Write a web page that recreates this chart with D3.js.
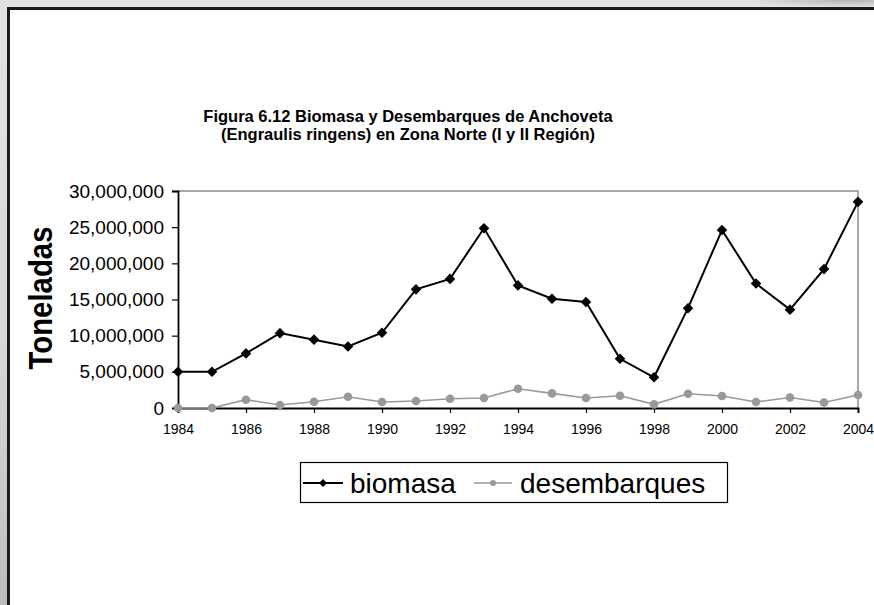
<!DOCTYPE html>
<html>
<head>
<meta charset="utf-8">
<script src="https://cdn.jsdelivr.net/npm/d3@7"></script>
<style>
  html, body { margin: 0; padding: 0; background: #dcdcdc; }
  svg { display: block; }
</style>
</head>
<body>
<svg id="chart" width="874" height="605"></svg>
<script>
// Anchoveta biomass and landings, northern zone (I and II Region)
const years = [1984, 1985, 1986, 1987, 1988, 1989, 1990, 1991, 1992, 1993, 1994,
               1995, 1996, 1997, 1998, 1999, 2000, 2001, 2002, 2003, 2004];
const biomasa = [5000000, 5000000, 7550000, 10350000, 9450000, 8500000, 10400000,
                 16400000, 17850000, 24850000, 16950000, 15100000, 14650000, 6800000,
                 4250000, 13800000, 24600000, 17200000, 13600000, 19200000, 28500000];
const desembarques = [0, 0, 1150000, 410000, 870000, 1560000, 830000, 970000,
                      1280000, 1380000, 2660000, 2020000, 1380000, 1700000, 500000,
                      1970000, 1660000, 830000, 1460000, 770000, 1790000];
const yTicks = [0, 5000000, 10000000, 15000000, 20000000, 25000000, 30000000];
const xTicks = [1984, 1986, 1988, 1990, 1992, 1994, 1996, 1998, 2000, 2002, 2004];
const titleLines = ["Figura 6.12 Biomasa y Desembarques de Anchoveta",
                    "(Engraulis ringens) en Zona Norte (I y II Región)"];
const seriesNames = ["biomasa", "desembarques"];

const FONT = "'Liberation Sans', Arial, sans-serif";
const svg = d3.select("#chart");
const W = 874, H = 605;

// page backdrop with soft shading
const defs = svg.append("defs");
const bg = defs.append("linearGradient").attr("id", "bg")
  .attr("x1", 0).attr("y1", 0).attr("x2", 0).attr("y2", 1);
bg.append("stop").attr("offset", 0).attr("stop-color", "#e2e2e2");
bg.append("stop").attr("offset", 0.6).attr("stop-color", "#d6d6d6");
bg.append("stop").attr("offset", 1).attr("stop-color", "#bdbdbd");
const corner = defs.append("radialGradient").attr("id", "corner")
  .attr("cx", 0.97).attr("cy", 0).attr("r", 0.12);
corner.append("stop").attr("offset", 0).attr("stop-color", "#a8a8a8").attr("stop-opacity", 0.8);
corner.append("stop").attr("offset", 1).attr("stop-color", "#a8a8a8").attr("stop-opacity", 0);

svg.append("rect").attr("width", W).attr("height", H).attr("fill", "url(#bg)");
svg.append("rect").attr("width", W).attr("height", 60).attr("fill", "url(#corner)");

// white sheet with dark frame on top and left
svg.append("rect").attr("x", 10).attr("y", 10).attr("width", W - 10).attr("height", H - 10)
  .attr("fill", "#ffffff");
svg.append("path")
  .attr("d", `M8.5,${H} V8.5 H${W}`)
  .attr("fill", "none").attr("stroke", "#1a1a1a").attr("stroke-width", 3);

// plot area
const plot = { left: 178, right: 858, top: 191, bottom: 408 };
const x = d3.scaleLinear().domain([1984, 2004]).range([plot.left, plot.right]);
const y = d3.scaleLinear().domain([0, 30000000]).range([plot.bottom, plot.top]);

// top and right frame of the plot area
svg.append("path")
  .attr("d", `M${plot.left},${plot.top} H${plot.right} V${plot.bottom}`)
  .attr("fill", "none").attr("stroke", "#8c8c8c").attr("stroke-width", 1.5);

// y axis
const yAxis = d3.axisLeft(y).tickValues(yTicks).tickSize(6).tickPadding(8)
  .tickFormat(d3.format(","));
const gy = svg.append("g").attr("transform", `translate(${plot.left},0)`).call(yAxis);
gy.select(".domain").attr("stroke", "#000").attr("stroke-width", 1.8);
gy.selectAll(".tick line").attr("stroke", "#000").attr("stroke-width", 1.2);
gy.selectAll(".tick text").attr("font-family", FONT).attr("font-size", 19).attr("fill", "#000");

// x axis
const xAxis = d3.axisBottom(x).tickValues(xTicks).tickSize(5).tickPadding(11)
  .tickFormat(d3.format("d"));
const gx = svg.append("g").attr("transform", `translate(0,${plot.bottom})`).call(xAxis);
gx.select(".domain").attr("stroke", "#000").attr("stroke-width", 1.8);
gx.selectAll(".tick line").attr("stroke", "#000").attr("stroke-width", 1.2);
gx.selectAll(".tick text").attr("font-family", FONT).attr("font-size", 14).attr("fill", "#000");

// axis title
svg.append("text")
  .attr("transform", `translate(52,298) rotate(-90)`)
  .attr("text-anchor", "middle")
  .attr("font-family", FONT).attr("font-weight", "bold").attr("font-size", 33)
  .attr("textLength", 143).attr("lengthAdjust", "spacingAndGlyphs")
  .text("Toneladas");

// chart title
svg.append("g").selectAll("text").data(titleLines).join("text")
  .attr("x", 408).attr("y", (d, i) => 122 + i * 18)
  .attr("text-anchor", "middle")
  .attr("font-family", FONT).attr("font-weight", "bold").attr("font-size", 16.5)
  .text(d => d);

const line = d3.line().x((d, i) => x(years[i])).y(d => y(d));
const diamond = d3.symbol().type(d3.symbolDiamond2).size(50);

// desembarques series
svg.append("path").datum(desembarques)
  .attr("d", line).attr("fill", "none").attr("stroke", "#999999").attr("stroke-width", 1.6);
svg.append("g").selectAll("circle").data(desembarques).join("circle")
  .attr("cx", (d, i) => x(years[i])).attr("cy", d => y(d)).attr("r", 4.3)
  .attr("fill", "#999999");

// biomasa series
svg.append("path").datum(biomasa)
  .attr("d", line).attr("fill", "none").attr("stroke", "#000").attr("stroke-width", 2);
svg.append("g").selectAll("path").data(biomasa).join("path")
  .attr("transform", (d, i) => `translate(${x(years[i])},${y(d)})`)
  .attr("d", diamond).attr("fill", "#000").attr("stroke", "#000").attr("stroke-width", 1.2);

// legend
const lg = svg.append("g");
lg.append("rect").attr("x", 300.5).attr("y", 462.5).attr("width", 427).attr("height", 40)
  .attr("fill", "#fff").attr("stroke", "#000").attr("stroke-width", 1.2);
const legendItems = [
  { name: seriesNames[0], x0: 303, x1: 343, color: "#000", width: 2, marker: "diamond", tx: 350 },
  { name: seriesNames[1], x0: 474, x1: 512, color: "#999999", width: 1.6, marker: "circle", tx: 520 }
];
const ly = 483;
legendItems.forEach(it => {
  lg.append("line").attr("x1", it.x0).attr("x2", it.x1).attr("y1", ly).attr("y2", ly)
    .attr("stroke", it.color).attr("stroke-width", it.width);
  const cx = (it.x0 + it.x1) / 2;
  if (it.marker === "diamond") {
    lg.append("path").attr("transform", `translate(${cx},${ly})`)
      .attr("d", d3.symbol().type(d3.symbolDiamond2).size(40)).attr("fill", it.color);
  } else {
    lg.append("circle").attr("cx", cx).attr("cy", ly).attr("r", 3).attr("fill", it.color);
  }
  lg.append("text").attr("x", it.tx).attr("y", ly + 10)
    .attr("font-family", FONT).attr("font-size", 28).attr("fill", "#000")
    .text(it.name);
});
</script>
</body>
</html>
